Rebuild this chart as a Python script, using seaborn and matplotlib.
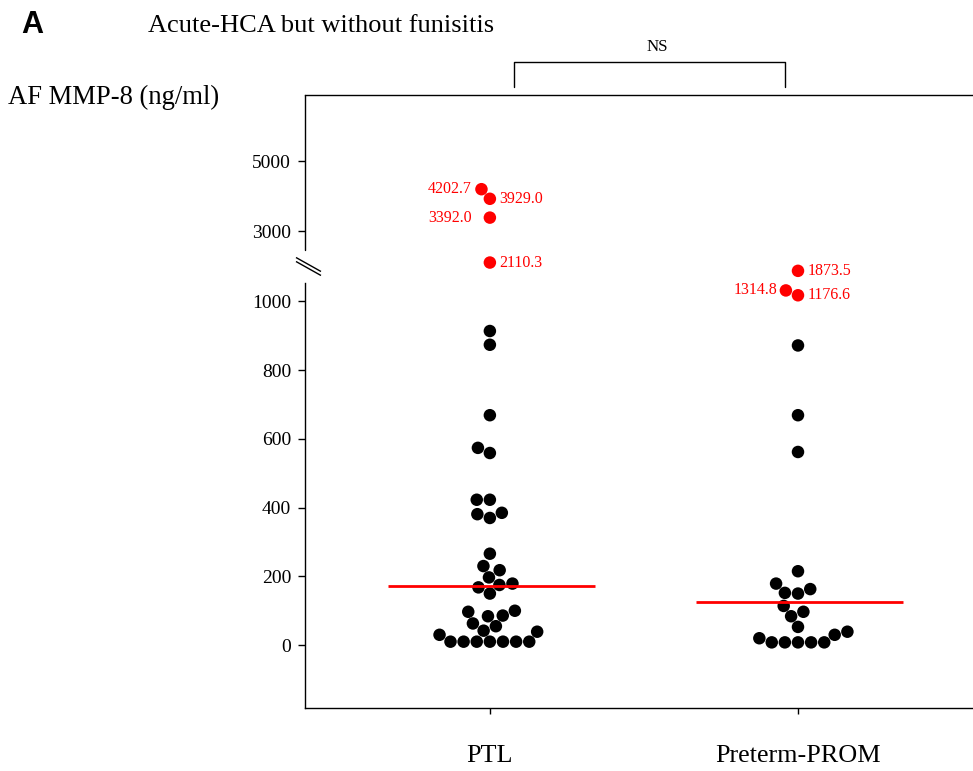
import numpy as np
import pandas as pd
import matplotlib.pyplot as plt
import seaborn as sns
from matplotlib.path import Path

# values (ng/ml)
groups = ["PTL", "Preterm-PROM"]
ptl_values = [914, 874, 669, 574, 559, 423, 423, 385, 381, 370, 266, 230, 218,
              197, 179, 175, 168, 150, 100, 97, 86, 84, 63, 55, 42, 39, 30,
              10, 10, 10, 10, 10, 10, 10]
prom_values = [872, 669, 562, 215, 179, 163, 152, 150, 114, 97, 84, 53, 39, 30,
               20, 8, 8, 8, 8, 8]
ptl_high = [4202.7, 3929.0, 3392.0, 2110.3]
prom_high = [1873.5, 1314.8, 1176.6]
medians = [172, 125]
y_ticks = [0, 200, 400, 600, 800, 1000, 3000, 5000]

# label side for each high value: -1 left of the dot, +1 right of it
ptl_high_side = [-1, 1, -1, 1]
prom_high_side = [1, -1, 1]

BREAK = 1000
SQUEEZE = 0.102


def fwd(v):
    v = np.asarray(v, dtype=float)
    return np.where(v <= BREAK, v, BREAK + (v - BREAK) * SQUEEZE)


def inv(t):
    t = np.asarray(t, dtype=float)
    return np.where(t <= BREAK, t, BREAK + (t - BREAK) / SQUEEZE)


rows = []
for g, vals, high in [(groups[0], ptl_values, ptl_high), (groups[1], prom_values, prom_high)]:
    rows += [(g, v, "normal") for v in vals]
    rows += [(g, v, "high") for v in high]
df = pd.DataFrame(rows, columns=["group", "value", "flag"])

sns.set_style("ticks")
plt.rcParams["font.family"] = ["Liberation Serif", "DejaVu Serif"]
plt.rcParams["text.color"] = "black"

fig = plt.figure(figsize=(9.73, 7.71), dpi=100)
ax = fig.add_axes([305 / 973, 63 / 771, 1 - 305 / 973, 613 / 771])
ax.set_yscale("function", functions=(fwd, inv))

sns.swarmplot(data=df, x="group", y="value", hue="flag", order=groups,
              palette={"normal": "black", "high": "red"}, size=9,
              legend=False, ax=ax)

ylo, yhi = -183, 6890
ax.set_ylim(ylo, yhi)
ax.set_xlim(-0.6, 1.568)
ax.set_yticks(y_ticks)
ax.set_yticklabels([str(t) for t in y_ticks])
ax.minorticks_off()
ax.set_xlabel("")
ax.set_ylabel("")

# median lines
for i, m in enumerate(medians):
    ax.hlines(m, i - 0.33, i + 0.34, color="red", lw=2, zorder=5)

# labels for high values
for i, (high, sides) in enumerate([(ptl_high, ptl_high_side), (prom_high, prom_high_side)]):
    for v, s in zip(high, sides):
        dx = 7 if s > 0 else (-13 if i == 0 else -15)
        ax.annotate(f"{v:.1f}", xy=(i, v), xytext=(dx, 0), textcoords="offset points",
                    ha="left" if s > 0 else "right", va="center",
                    color="red", fontsize=11.5)

# frame: top & bottom, left with a break
for side in ["top", "bottom", "left"]:
    ax.spines[side].set_color("black")
    ax.spines[side].set_linewidth(1.0)
ax.spines["right"].set_visible(False)
ax.spines["left"].set_bounds(ylo, 1540)
ax.plot([0, 0], [2455, yhi], transform=ax.get_yaxis_transform(),
        color="black", lw=1.0, clip_on=False)
brk = Path([(-1, 0.72), (1, -0.40), (-1, 0.40), (1, -0.72)],
           [Path.MOVETO, Path.LINETO, Path.MOVETO, Path.LINETO])
ax.plot([0.004], [2000], transform=ax.get_yaxis_transform(), marker=brk,
        markersize=18, markerfacecolor="none", markeredgecolor="black",
        markeredgewidth=1.0, linestyle="none", clip_on=False)

ax.tick_params(axis="y", direction="out", length=5, width=1, pad=5,
               labelsize=14, colors="black")
ax.tick_params(axis="x", direction="out", length=4.5, width=1, pad=22,
               labelsize=18.8, colors="black")

# significance bracket
tr = ax.get_xaxis_transform()
ax.plot([0.078, 0.078, 0.958, 0.958], [1.013, 1.054, 1.054, 1.013],
        transform=tr, color="black", lw=1.0, clip_on=False)
ax.text(0.542, 1.066, "NS", transform=tr, ha="center", va="bottom", fontsize=12.2)

fig.text(21 / 973, 1 - 33 / 771, "A", family="Liberation Sans", weight="bold",
         fontsize=22, ha="left", va="baseline")
fig.text(148 / 973, 1 - 32 / 771, "Acute-HCA but without funisitis",
         fontsize=19, ha="left", va="baseline")
fig.text(8 / 973, 1 - 104 / 771, "AF MMP-8 (ng/ml)", fontsize=19.2,
         ha="left", va="baseline")

fig.savefig("out.png", dpi=100)
